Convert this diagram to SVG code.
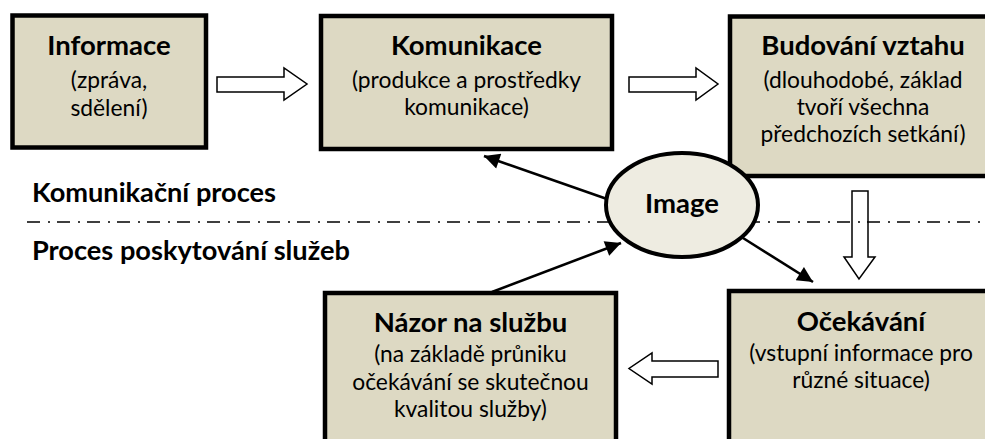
<svg xmlns="http://www.w3.org/2000/svg" width="985" height="439" viewBox="0 0 985 439">
<style>
.box{fill:#DDD9C3;stroke:#000;stroke-width:4.5}
.ell{fill:#EEECE1;stroke:#000;stroke-width:4}
.t{font-family:Lato,"Liberation Sans",sans-serif;font-size:27.5px;font-weight:bold;fill:#000;text-anchor:middle}
.s{font-family:Lato,"Liberation Sans",sans-serif;font-size:22.8px;fill:#000;text-anchor:middle}
.lbl{font-family:Lato,"Liberation Sans",sans-serif;font-size:27.2px;font-weight:bold;fill:#000}
.blk{fill:#fff;stroke:#000;stroke-width:1.5;stroke-linejoin:miter}
.con{stroke:#000;stroke-width:2.6;fill:none}
.dd{stroke:#000;stroke-width:1.6;stroke-dasharray:13 8 2 7;fill:none}
</style>
<defs>
<marker id="ah" viewBox="0 0 10 10" refX="10" refY="5" markerWidth="6.5" markerHeight="6" orient="auto" markerUnits="strokeWidth">
<path d="M0,0 L10,5 L0,10 Z" fill="#000"/>
</marker>
</defs>
<rect width="985" height="439" fill="#fff"/>
<g id="labels">
<text class="lbl" x="32" y="202">Komunikační proces</text>
<text class="lbl" x="32" y="260">Proces poskytování služeb</text>
</g>
<g id="connectors">
<polygon class="blk" points="217,77 284,77 284,68 307,84 284,100 284,92 217,92"/>
<polygon class="blk" points="629,77 696,77 696,68 718,84 696,100 696,92 629,92"/>
<polygon class="blk" points="852,191 868,191 868,257 875,257 859,279 844,257 852,257"/>
<polygon class="blk" points="718,361 718,377 652,377 652,384 629,368.5 652,353 652,361"/>
<line class="dd" x1="27" y1="222" x2="985" y2="222"/>
<line class="con" x1="607" y1="199" x2="484" y2="156" marker-end="url(#ah)"/>
<line class="con" x1="492" y1="292" x2="621" y2="243" marker-end="url(#ah)"/>
<line class="con" x1="743" y1="238" x2="813" y2="282" marker-end="url(#ah)"/>
</g>
<g id="informace">
<rect class="box" x="12.5" y="15.5" width="193.5" height="132"/>
<text class="t" x="109" y="55">Informace</text>
<text class="s" x="109" y="88">(zpráva,</text>
<text class="s" x="109" y="116">sdělení)</text>
</g>
<g id="komunikace">
<rect class="box" x="321" y="16" width="291" height="133"/>
<text class="t" x="466.5" y="55">Komunikace</text>
<text class="s" x="466.5" y="88">(produkce a prostředky</text>
<text class="s" x="466.5" y="115">komunikace)</text>
</g>
<g id="budovani">
<rect class="box" x="730" y="16.5" width="266" height="159.5"/>
<text class="t" x="863" y="55">Budování vztahu</text>
<text class="s" x="863" y="88">(dlouhodobé, základ</text>
<text class="s" x="863" y="115">tvoří všechna</text>
<text class="s" x="863" y="142">předchozích setkání)</text>
</g>
<g id="image">
<ellipse class="ell" cx="682" cy="205" rx="76" ry="52"/>
<text class="t" x="682" y="213">Image</text>
</g>
<g id="nazor">
<rect class="box" x="325" y="293" width="291" height="170"/>
<text class="t" x="470.5" y="332">Názor na službu</text>
<text class="s" x="470.5" y="362">(na základě průniku</text>
<text class="s" x="470.5" y="390">očekávání se skutečnou</text>
<text class="s" x="470.5" y="417">kvalitou služby)</text>
</g>
<g id="ocekavani">
<rect class="box" x="729" y="291" width="264" height="170"/>
<text class="t" x="861" y="331">Očekávání</text>
<text class="s" x="861" y="361">(vstupní informace pro</text>
<text class="s" x="861" y="388">různé situace)</text>
</g>
</svg>
